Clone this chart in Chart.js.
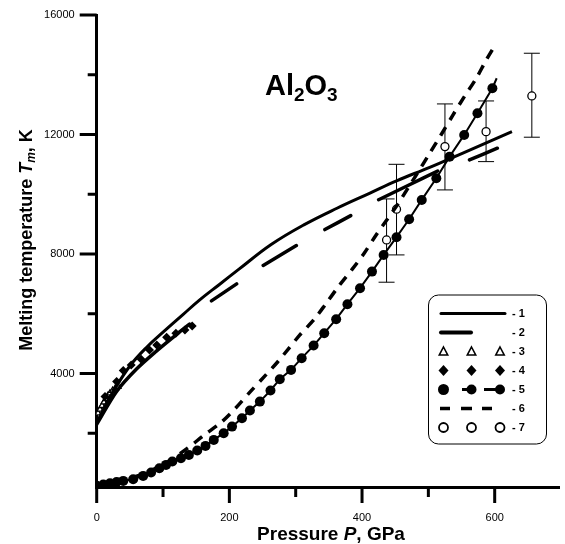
<!DOCTYPE html>
<html><head><meta charset="utf-8">
<script src="https://cdn.jsdelivr.net/npm/chart.js@4/dist/chart.umd.min.js"></script>
<style>html,body{margin:0;padding:0;background:#fff}canvas{display:block}</style>
</head><body>
<canvas id="c" width="565" height="544"></canvas>
<script>
// ---- data (P in GPa, T in K) ----
const xTicks = [0, 200, 400, 600];
const xMinor = [100, 300, 500];
const yTicks = [4000, 8000, 12000, 16000];
const yMinor = [2000, 6000, 10000, 14000];

// 1: solid line
const c1P = [0, 10, 25, 50, 75, 103, 130, 154, 185, 214, 263, 313, 363, 412, 452, 502, 552, 626];
const c1T = [2330, 2800, 3400, 4250, 4870, 5440, 5970, 6440, 6980, 7483, 8317, 8983, 9540, 10040, 10450, 10900, 11380, 12093];
// 2: long-dashed line (null = break)
const c2P = [0, 30, 60, 90, 120, 140, null, 173, 211, null, 251, 301, null, 344, 383, null, 425, 470, 514, null, 562, 604];
const c2T = [2300, 3400, 4150, 4750, 5300, 5650, null, 6430, 7000, null, 7617, 8283, null, 8817, 9283, null, 9817, 10300, 10777, null, 11150, 11540];
// 3: open triangles
const c3P = [2, 5, 8, 11, 14, 17, 20, 24, 28, 32];
const c3T = [2670, 2800, 2920, 3040, 3150, 3260, 3340, 3430, 3500, 3560];
// 4: diamonds
const c4P = [12.5, 30, 40, 52, 67, 79.6, 90.5, 105.4, 119.4, 133, 144];
const c4T = [3226, 3729, 4097, 4287, 4478, 4790, 4957, 5215, 5349, 5459, 5593];
// 5: filled circles with line
const c5P = [0, 10, 20, 30, 40, 55, 70, 82, 94.5, 104.5, 114, 127, 139, 151.6, 164, 176.5, 191.4, 204, 219, 231, 246, 262, 276, 293, 309, 327, 343, 361, 378, 397, 415, 432.6, 452, 471, 490, 512, 532, 554, 574, 596.5, 603];
const c5T = [238, 280, 328, 365, 405, 462, 572, 683, 830, 940, 1051, 1165, 1275, 1419, 1576, 1777, 2001, 2222, 2504, 2758, 3059, 3430, 3809, 4120, 4512, 4934, 5349, 5817, 6319, 6855, 7410, 7969, 8562, 9164, 9810, 10536, 11259, 11986, 12712, 13549, 13883];
// 6: short-dashed line
const c6P = [0, 50, 100, 137, 162, 187, 209, 232, 254, 273, 290, 306, 328, 345, 365, 385, 403, 420, 437, 455, 472, 487, 502, 519, 537, 554, 572, 587, 602];
const c6T = [240, 480, 950, 1500, 1940, 2350, 2830, 3400, 3927, 4393, 4850, 5283, 5817, 6317, 6927, 7483, 8017, 8593, 9127, 9707, 10300, 10830, 11373, 11983, 12650, 13260, 13873, 14483, 15040];
// 7: open circles with error bars
const c7P = [437, 452, 525, 587, 656];
const c7T = [8471, 9499, 11594, 12096, 13291];
const c7Lo = [7055, 7969, 10145, 11092, 11909];
const c7Hi = [9843, 11002, 13023, 13123, 14720];

const legendLabels = ['1', '2', '3', '4', '5', '6', '7'];

const FONT = '"Liberation Sans", Arial, Helvetica, sans-serif';
const pts = (P, T) => P.map((p, i) => ({x: p, y: T[i]}));

const decor = {
  id: 'decor',
  beforeDatasetsDraw(chart) {
    const ctx = chart.ctx, xs = chart.scales.x, ys = chart.scales.y;
    ctx.save();
    ctx.strokeStyle = '#000'; ctx.lineWidth = 1;
    c7P.forEach((p, i) => {
      const px = xs.getPixelForValue(p);
      const lo = ys.getPixelForValue(c7Lo[i]), hi = ys.getPixelForValue(c7Hi[i]);
      ctx.beginPath();
      ctx.moveTo(px, lo); ctx.lineTo(px, hi);
      ctx.moveTo(px - 8, lo); ctx.lineTo(px + 8, lo);
      ctx.moveTo(px - 8, hi); ctx.lineTo(px + 8, hi);
      ctx.stroke();
    });
    ctx.restore();
  },
  afterDraw(chart) {
    const ctx = chart.ctx, xs = chart.scales.x, ys = chart.scales.y, a = chart.chartArea;
    ctx.save();
    ctx.strokeStyle = '#000'; ctx.fillStyle = '#000';
    ctx.lineWidth = 3;
    ctx.beginPath();
    xTicks.forEach(v => { const px = xs.getPixelForValue(v); ctx.moveTo(px, a.bottom); ctx.lineTo(px, a.bottom + 16); });
    xMinor.forEach(v => { const px = xs.getPixelForValue(v); ctx.moveTo(px, a.bottom); ctx.lineTo(px, a.bottom + 10); });
    yTicks.forEach(v => { const py = ys.getPixelForValue(v); ctx.moveTo(a.left - 17, py); ctx.lineTo(a.left, py); });
    yMinor.forEach(v => { const py = ys.getPixelForValue(v); ctx.moveTo(a.left - 9, py); ctx.lineTo(a.left, py); });
    ctx.stroke();

    function drawParts(parts, x, y, align) {
      let w = 0;
      parts.forEach(p => { ctx.font = p.f; w += ctx.measureText(p.t).width; });
      let cx = align === 'center' ? x - w / 2 : x;
      ctx.textBaseline = 'alphabetic'; ctx.textAlign = 'left';
      parts.forEach(p => { ctx.font = p.f; ctx.fillText(p.t, cx, y + (p.dy || 0)); cx += ctx.measureText(p.t).width; });
    }
    drawParts([
      {t: 'Al', f: 'bold 29px ' + FONT},
      {t: '2', f: 'bold 19px ' + FONT, dy: 6},
      {t: 'O', f: 'bold 29px ' + FONT},
      {t: '3', f: 'bold 19px ' + FONT, dy: 6}
    ], 265, 95, 'left');

    drawParts([
      {t: 'Pressure ', f: 'bold 19px ' + FONT},
      {t: 'P', f: 'italic bold 19px ' + FONT},
      {t: ', GPa', f: 'bold 19px ' + FONT}
    ], 331, 540, 'center');

    ctx.save();
    ctx.translate(31.5, 240);
    ctx.rotate(-Math.PI / 2);
    drawParts([
      {t: 'Melting temperature ', f: 'bold 18px ' + FONT},
      {t: 'T', f: 'italic bold 18px ' + FONT},
      {t: 'm', f: 'italic bold 12px ' + FONT, dy: 3},
      {t: ', K', f: 'bold 18px ' + FONT}
    ], 0, 0, 'center');
    ctx.restore();

    const L = 428.5, T0 = 295, R = 546.5, B = 444, rr = 10;
    ctx.lineWidth = 1;
    ctx.beginPath();
    ctx.moveTo(L + rr, T0); ctx.lineTo(R - rr, T0); ctx.arcTo(R, T0, R, T0 + rr, rr);
    ctx.lineTo(R, B - rr); ctx.arcTo(R, B, R - rr, B, rr);
    ctx.lineTo(L + rr, B); ctx.arcTo(L, B, L, B - rr, rr);
    ctx.lineTo(L, T0 + rr); ctx.arcTo(L, T0, L + rr, T0, rr);
    ctx.closePath();
    ctx.fillStyle = '#fff'; ctx.fill(); ctx.stroke();
    ctx.fillStyle = '#000';
    const rows = [313.5, 332.5, 351.5, 370.5, 389.5, 408.5, 427.5];
    const sx = [443.5, 471.5, 500];
    ctx.lineCap = 'round';
    ctx.lineWidth = 3; ctx.beginPath(); ctx.moveTo(441, rows[0]); ctx.lineTo(505, rows[0]); ctx.stroke();
    ctx.lineWidth = 4; ctx.beginPath(); ctx.moveTo(441, rows[1]); ctx.lineTo(471, rows[1]); ctx.stroke();
    ctx.lineCap = 'butt'; ctx.lineJoin = 'miter';
    ctx.lineWidth = 1.6;
    sx.forEach(x => {
      const y = rows[2];
      ctx.beginPath(); ctx.moveTo(x, y - 4.5); ctx.lineTo(x + 4.2, y + 3.5); ctx.lineTo(x - 4.2, y + 3.5); ctx.closePath();
      ctx.fillStyle = '#fff'; ctx.fill(); ctx.stroke();
    });
    ctx.fillStyle = '#000';
    sx.forEach(x => {
      ctx.beginPath(); ctx.moveTo(x, rows[3] - 5.5); ctx.lineTo(x + 5, rows[3]); ctx.lineTo(x, rows[3] + 5.5); ctx.lineTo(x - 5, rows[3]); ctx.closePath(); ctx.fill();
    });
    ctx.lineWidth = 3;
    ctx.beginPath(); ctx.moveTo(462, rows[4]); ctx.lineTo(472, rows[4]); ctx.moveTo(484, rows[4]); ctx.lineTo(500, rows[4]); ctx.stroke();
    [[443.5, 5.5], [471.5, 5], [500, 5]].forEach(([x, r]) => { ctx.beginPath(); ctx.arc(x, rows[4], r, 0, Math.PI * 2); ctx.fill(); });
    ctx.lineWidth = 3.5;
    ctx.beginPath();
    [[440, 450], [461, 472], [482, 492]].forEach(([x0, x1]) => { ctx.moveTo(x0, rows[5]); ctx.lineTo(x1, rows[5]); });
    ctx.stroke();
    ctx.lineWidth = 1.8;
    sx.forEach(x => { ctx.beginPath(); ctx.arc(x, rows[6], 4.5, 0, Math.PI * 2); ctx.fillStyle = '#fff'; ctx.fill(); ctx.stroke(); });
    ctx.fillStyle = '#000';
    ctx.font = 'bold 11px ' + FONT; ctx.textAlign = 'left'; ctx.textBaseline = 'middle';
    legendLabels.forEach((t, i) => ctx.fillText('- ' + t, 512, rows[i] + 0.5));
    ctx.restore();
  }
};

new Chart(document.getElementById('c'), {
  type: 'line',
  data: {
    datasets: [
      {label: '6', data: pts(c6P, c6T), borderColor: '#000', borderWidth: 3.5, borderDash: [10, 8], pointRadius: 0, tension: 0.3},
      {label: '5', data: pts(c5P, c5T), borderColor: '#000', backgroundColor: '#000', borderWidth: 2,
        pointRadius: c5P.map((p, i) => i === c5P.length - 1 ? 0 : 5), pointBackgroundColor: '#000', pointBorderWidth: 0, tension: 0},
      {label: '1', data: pts(c1P, c1T), borderColor: '#000', borderWidth: 3, pointRadius: 0, tension: 0.4},
      {label: '2', data: pts(c2P, c2T), borderColor: '#000', borderWidth: 3.5, pointRadius: 0, tension: 0.3, spanGaps: false, borderCapStyle: 'round'},
      {label: '4', data: pts(c4P, c4T), showLine: false, pointStyle: 'rectRot', pointRadius: 4.5, pointBackgroundColor: '#000', pointBorderColor: '#000', pointBorderWidth: 0},
      {label: '3', data: pts(c3P, c3T), showLine: false, pointStyle: 'triangle', pointRadius: 3.5, pointBackgroundColor: '#fff', pointBorderColor: '#000', pointBorderWidth: 1.3},
      {label: '7', data: pts(c7P, c7T), showLine: false, pointStyle: 'circle', pointRadius: 4, pointBackgroundColor: '#fff', pointBorderColor: '#000', pointBorderWidth: 1.3}
    ]
  },
  options: {
    responsive: false,
    animation: false,
    devicePixelRatio: 1,
    events: [],
    layout: {padding: {top: 15, right: 0, bottom: 0, left: 0}},
    plugins: {legend: {display: false}, tooltip: {enabled: false}, title: {display: false}},
    scales: {
      x: {
        type: 'linear', position: 'bottom', min: 0, max: 698,
        afterBuildTicks: s => { s.ticks = xTicks.map(v => ({value: v})); },
        afterFit: s => { s.height = 57; s.paddingLeft = 0; s.paddingRight = 0; },
        grid: {display: false, drawTicks: false},
        border: {display: true, color: '#000', width: 3},
        ticks: {color: '#000', font: {family: FONT, size: 11}, padding: 24, maxRotation: 0, callback: v => String(v)},
        title: {display: false}
      },
      y: {
        type: 'linear', min: 200, max: 16000,
        afterBuildTicks: s => { s.ticks = yTicks.map(v => ({value: v})); },
        afterFit: s => { s.width = 96.7; s.paddingTop = 0; s.paddingBottom = 0; },
        grid: {display: false, drawTicks: false},
        border: {display: true, color: '#000', width: 3},
        ticks: {color: '#000', font: {family: FONT, size: 11}, padding: 22, callback: v => String(v)},
        title: {display: false}
      }
    }
  },
  plugins: [decor]
});
</script>
</body></html>
